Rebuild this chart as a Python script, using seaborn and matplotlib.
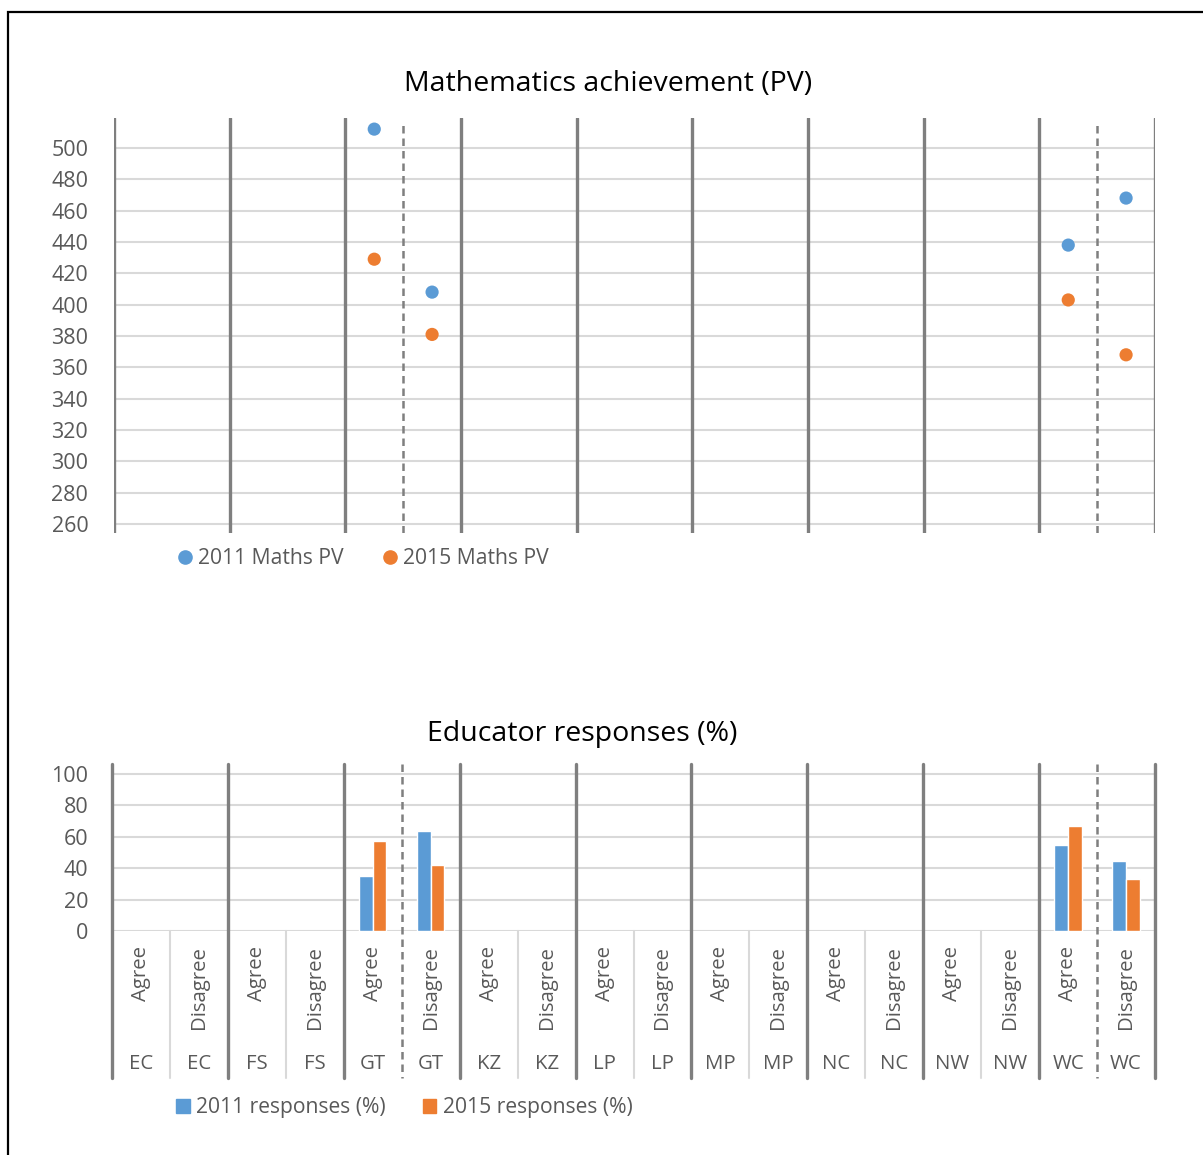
import numpy as np
import pandas as pd
import matplotlib
matplotlib.use("Agg")
import matplotlib.pyplot as plt
import matplotlib.transforms as mtransforms
from matplotlib.patches import Rectangle
from matplotlib.lines import Line2D
import seaborn as sns

# ---------------- data ----------------
provinces = ["EC", "FS", "GT", "KZ", "LP", "MP", "NC", "NW", "WC"]
responses = ["Agree", "Disagree"]
maths_2011 = [np.nan, np.nan, np.nan, np.nan, 512, 408, np.nan, np.nan, np.nan,
              np.nan, np.nan, np.nan, np.nan, np.nan, np.nan, np.nan, 438, 468]
maths_2015 = [np.nan, np.nan, np.nan, np.nan, 429, 381, np.nan, np.nan, np.nan,
              np.nan, np.nan, np.nan, np.nan, np.nan, np.nan, np.nan, 403, 368]
resp_2011 = [np.nan, np.nan, np.nan, np.nan, 35, 64, np.nan, np.nan, np.nan,
             np.nan, np.nan, np.nan, np.nan, np.nan, np.nan, np.nan, 55, 44.5]
resp_2015 = [np.nan, np.nan, np.nan, np.nan, 57.5, 42, np.nan, np.nan, np.nan,
             np.nan, np.nan, np.nan, np.nan, np.nan, np.nan, np.nan, 67, 33]
pv_labels = ["2011 Maths PV", "2015 Maths PV"]
resp_labels = ["2011 responses (%)", "2015 responses (%)"]
pv_ticks = list(range(260, 501, 20))
resp_ticks = list(range(0, 101, 20))

cats = [f"{p} {r}" for p in provinces for r in responses]
cat_prov = [p for p in provinces for r in responses]
cat_resp = [r for p in provinces for r in responses]

df_pv = pd.DataFrame({
    "cat": cats * 2,
    "value": maths_2011 + maths_2015,
    "series": [pv_labels[0]] * len(cats) + [pv_labels[1]] * len(cats),
}).dropna()
df_resp = pd.DataFrame({
    "cat": cats * 2,
    "value": resp_2011 + resp_2015,
    "series": [resp_labels[0]] * len(cats) + [resp_labels[1]] * len(cats),
}).dropna()

# ---------------- style ----------------
sns.set_style("white")
plt.rcParams["font.family"] = ["Open Sans", "DejaVu Sans"]
BLUE = "#5B9BD5"
ORANGE = "#ED7D31"
TXT = "#595959"
GRID = "#D9D9D9"
SEP = "#7F7F7F"
FS_TICK = 15.5
FS_LEG = 15.2
FS_CAT = 14.7
FS_TITLE = 20.5

W, H = 1203, 1155
fig = plt.figure(figsize=(W / 100, H / 100), dpi=100)

def fx(px):
    return px / W

def fy(py):
    return 1 - py / H

# outer border
fig.add_artist(Rectangle((fx(8), fy(1200)), 1.2, fy(12) - fy(1200), transform=fig.transFigure,
                         fill=False, edgecolor="black", linewidth=1.6))

n = len(cats)
group_edges = [-0.5 + 2 * i for i in range(len(provinces) + 1)]
dashed_pos = [4.5, 16.5]
light_pos = [0.5 + 2 * i for i in range(len(provinces)) if (0.5 + 2 * i) not in dashed_pos]

# ---------------- top chart ----------------
ax1 = fig.add_axes([fx(114), fy(533), fx(1155) - fx(114), fy(118) - fy(533)])
sns.stripplot(data=df_pv, x="cat", y="value", hue="series", order=cats,
              hue_order=pv_labels, palette=[BLUE, ORANGE], jitter=False, dodge=False,
              size=9.5, linewidth=0, ax=ax1, zorder=5)
ax1.set_xlim(-0.5, n - 0.5)
ax1.set_ylim(254.3, 519.1)
ax1.set_yticks(pv_ticks)
ax1.set_xticks([])
ax1.set_xlabel("")
ax1.set_ylabel("")
for s in ax1.spines.values():
    s.set_visible(False)
for t in pv_ticks:
    ax1.axhline(t, color=GRID, lw=1.5, zorder=1)
for x in group_edges:
    ax1.axvline(x, color=SEP, lw=2.4, zorder=2)
for x in dashed_pos:
    ax1.axvline(x, ymin=0, ymax=0.99, color=SEP, lw=1.8, ls=(0, (3, 2)), zorder=2)
ax1.tick_params(axis="y", length=0, pad=18.5, labelsize=FS_TICK, labelcolor=TXT)
ax1.get_legend().remove()
fig.text(fx(608), fy(84), "Mathematics achievement (PV)", ha="center", va="center",
         fontsize=FS_TITLE, color="black")
h1 = [Line2D([], [], marker="o", ls="", color=c, markersize=9.5) for c in (BLUE, ORANGE)]
fig.legend(h1, pv_labels, loc="center left", bbox_to_anchor=(fx(179), fy(559)), ncol=2,
           frameon=False, fontsize=FS_LEG, labelcolor=TXT, handlelength=0.6, handletextpad=0.3,
           columnspacing=1.9, borderpad=0, borderaxespad=0)

# ---------------- bottom chart ----------------
ax2 = fig.add_axes([fx(112), fy(931), fx(1155) - fx(112), fy(764) - fy(931)])
sns.barplot(data=df_resp, x="cat", y="value", hue="series", order=cats,
            hue_order=resp_labels, palette=[BLUE, ORANGE], width=0.47,
            errorbar=None, saturation=1, ax=ax2, zorder=5)
ax2.set_xlim(-0.5, n - 0.5)
ax2.set_ylim(0, 106.4)
ax2.set_yticks(resp_ticks)
ax2.set_xticks([])
ax2.set_xlabel("")
ax2.set_ylabel("")
for s in ax2.spines.values():
    s.set_visible(False)
for t in resp_ticks:
    ax2.axhline(t, color=GRID, lw=1.5, zorder=1)
ax2.tick_params(axis="y", length=0, pad=17, labelsize=FS_TICK, labelcolor=TXT)
ax2.get_legend().remove()
fig.text(fx(582), fy(734), "Educator responses (%)", ha="center", va="center",
         fontsize=FS_TITLE, color="black")

trans = mtransforms.blended_transform_factory(ax2.transData, ax2.transAxes)
ybot = -(1078 - 931) / (931 - 764)
for x in group_edges:
    ax2.plot([x, x], [1.0, ybot], transform=trans, color=SEP, lw=2.4, clip_on=False, zorder=3)
for x in dashed_pos:
    ax2.plot([x, x], [1.0, ybot], transform=trans, color=SEP, lw=1.8, ls=(0, (3, 2)),
             clip_on=False, zorder=3)
for x in light_pos:
    ax2.plot([x, x], [0, ybot], transform=trans, color=GRID, lw=1.5, clip_on=False, zorder=2)

y_resp = -(946 - 931) / (931 - 764)
y_prov = -(1064 - 931) / (931 - 764)
for i in range(n):
    ax2.text(i, y_resp, cat_resp[i], transform=trans, rotation=90, ha="center", va="top",
             fontsize=FS_CAT, color=TXT)
    ax2.text(i, y_prov, cat_prov[i], transform=trans, ha="center", va="center",
             fontsize=FS_CAT, color=TXT)

h2 = [Rectangle((0, 0), 1, 1, color=c) for c in (BLUE, ORANGE)]
fig.legend(h2, resp_labels, loc="center left", bbox_to_anchor=(fx(176), fy(1108)), ncol=2,
           frameon=False, fontsize=FS_LEG, labelcolor=TXT, handlelength=0.65, handleheight=0.65,
           handletextpad=0.3, columnspacing=1.75, borderpad=0, borderaxespad=0)

fig.savefig("out.png", dpi=100)
